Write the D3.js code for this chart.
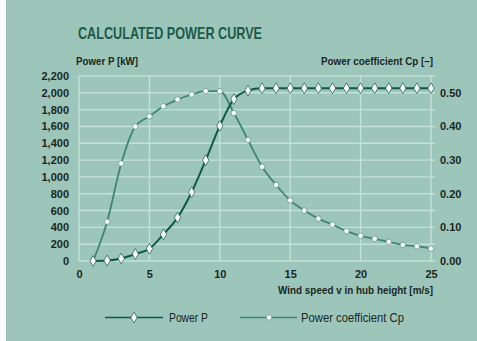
<!DOCTYPE html>
<html><head><meta charset="utf-8">
<script src="https://cdn.jsdelivr.net/npm/d3@7"></script>
<style>body{margin:0;background:#fff}svg{display:block}</style>
</head><body>
<script>
const windSpeed = [1,2,3,4,5,6,7,8,9,10,11,12,13,14,15,16,17,18,19,20,21,22,23,24,25];
const powerP = [0,5,30,83,146,318,516,818,1199,1607,1925,2027,2055,2055,2055,2055,2055,2055,2055,2055,2055,2055,2055,2055,2055];
const cp = [0,0.117,0.29,0.40,0.43,0.46,0.48,0.495,0.505,0.505,0.44,0.36,0.28,0.226,0.18,0.15,0.126,0.108,0.089,0.075,0.066,0.057,0.048,0.044,0.037];
const leftTicks = [0,200,400,600,800,1000,1200,1400,1600,1800,2000,2200];
const rightTicks = [0,0.1,0.2,0.3,0.4,0.5];
const xTicks = [0,5,10,15,20,25];

const W=477,H=341;
const bg="#9dc6ba", grid="#c3e2d8", txt="#1b2622";
const cP="#0e5a44", cCp="#3f8574";
const font="'Liberation Sans Narrow','Arial Narrow','Liberation Sans',sans-serif";

const svg=d3.select("body").append("svg").attr("width",W).attr("height",H);
svg.append("rect").attr("x",6).attr("y",0).attr("width",W-6).attr("height",H).attr("fill",bg);

const x=d3.scaleLinear().domain([0,25]).range([79,431]);
const yL=d3.scaleLinear().domain([0,2200]).range([261,76]);
const yR=d3.scaleLinear().domain([0,0.55]).range([261,76]);

// grid
const g=svg.append("g");
g.selectAll(".h").data(leftTicks).join("line")
 .attr("x1",x(0)).attr("x2",x(25)+4).attr("y1",d=>yL(d)).attr("y2",d=>yL(d))
 .attr("stroke",grid).attr("stroke-width",1.4);
g.selectAll(".v").data(xTicks).join("line")
 .attr("x1",d=>x(d)).attr("x2",d=>x(d)).attr("y1",yL(2200)).attr("y2",yL(0))
 .attr("stroke",grid).attr("stroke-width",1.4);

// axes
const axL=d3.axisLeft(yL).tickValues(leftTicks).tickFormat(d3.format(",")).tickSize(0).tickPadding(10);
const axR=d3.axisRight(yR).tickValues(rightTicks).tickFormat(d3.format(".2f")).tickSize(0).tickPadding(9);
const axB=d3.axisBottom(x).tickValues(xTicks).tickFormat(d3.format("d")).tickSize(0).tickPadding(9);
function style(sel){sel.select(".domain").remove();sel.selectAll("text").attr("font-family",font).attr("font-weight","bold").attr("font-size",11).attr("fill",txt);}
svg.append("g").attr("transform","translate(79,0)").call(axL).call(style);
svg.append("g").attr("transform","translate(431,0)").call(axR).call(style);
svg.append("g").attr("transform","translate(0,261)").call(axB).call(style);

// lines
const lineP=d3.line().x((d,i)=>x(windSpeed[i])).y(d=>yL(d)).curve(d3.curveMonotoneX);
const lineC=d3.line().x((d,i)=>x(windSpeed[i])).y(d=>yR(d)).curve(d3.curveMonotoneX);
svg.append("path").attr("d",lineC(cp)).attr("fill","none").attr("stroke",cCp).attr("stroke-width",1.8);
svg.append("path").attr("d",lineP(powerP)).attr("fill","none").attr("stroke",cP).attr("stroke-width",2);

const diamond=d3.symbol().type(d3.symbolDiamond).size(34);
svg.selectAll(".mc").data(cp).join("circle")
 .attr("cx",(d,i)=>x(windSpeed[i])).attr("cy",d=>yR(d)).attr("r",2.7)
 .attr("fill","#fff").attr("stroke",cCp).attr("stroke-width",0.6);
svg.selectAll(".mp").data(powerP).join("path")
 .attr("d",diamond).attr("transform",(d,i)=>`translate(${x(windSpeed[i])},${yL(d)})`)
 .attr("fill","#fff").attr("stroke",cP).attr("stroke-width",0.7);

// titles
function t(s,xx,yy,opts){const e=svg.append("text").text(s).attr("x",xx).attr("y",yy)
 .attr("font-family",font).attr("font-weight",opts.w||"bold").attr("font-size",opts.fs).attr("fill",opts.c||txt)
 .attr("text-anchor",opts.a||"start");
 if(opts.len){e.attr("textLength",opts.len).attr("lengthAdjust","spacingAndGlyphs");}return e;}
t("CALCULATED POWER CURVE",78,39,{fs:17,c:"#1c5a49",len:184});
t("Power P [kW]",76,65,{fs:11,len:62});
t("Power coefficient Cp [–]",321,65,{fs:11,len:112});
t("Wind speed v in hub height [m/s]",278,294,{fs:11,len:155});

// legend
const ly=317.5;
svg.append("line").attr("x1",105).attr("x2",163).attr("y1",ly).attr("y2",ly).attr("stroke",cP).attr("stroke-width",1.5);
svg.append("path").attr("d",diamond).attr("transform",`translate(134,${ly})`).attr("fill","#fff").attr("stroke",cP).attr("stroke-width",0.7);
t("Power P",169,322,{fs:12,w:"normal",len:39});
svg.append("line").attr("x1",240).attr("x2",297).attr("y1",ly).attr("y2",ly).attr("stroke",cCp).attr("stroke-width",1.5);
svg.append("circle").attr("cx",269).attr("cy",ly).attr("r",2.7).attr("fill","#fff").attr("stroke",cCp).attr("stroke-width",0.6);
t("Power coefficient Cp",301,322,{fs:12,w:"normal",len:103});
</script>
</body></html>
